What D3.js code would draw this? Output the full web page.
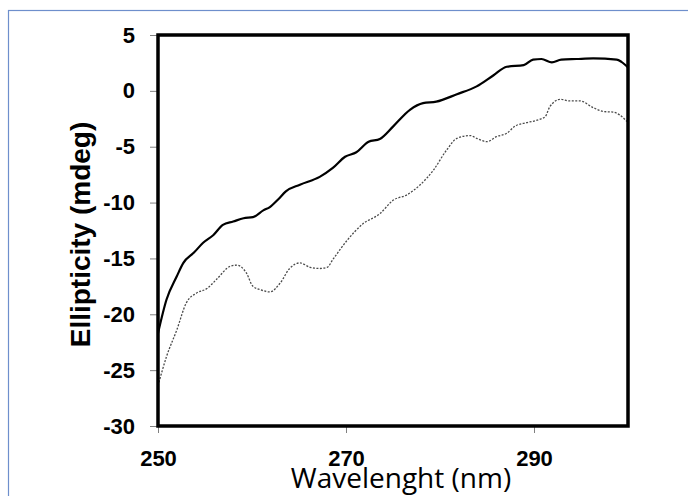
<!DOCTYPE html>
<html lang="en">
<head>
  <meta charset="UTF-8">
  <title>Ellipticity spectrum</title>
  <style>
    body { margin: 0; background: #fff; }
    .tick text { font-family: "Liberation Sans", Arial, sans-serif; font-weight: bold; font-size: 22px; fill: #000; }
    .tick line { stroke: #808080; stroke-width: 1; }
    .axis .domain { display: none; }
  </style>
</head>
<body>
  <div class="layout"></div>
  <script src="https://d3js.org/d3.v7.min.js"></script>
  <script>
    // solid trace
    const solidWl = [250.0, 250.9, 252.0, 252.7, 253.8, 254.8, 255.9, 256.9, 258.0, 259.1, 260.1, 261.2, 261.9, 262.8, 263.6,
      265.1, 267.2, 268.6, 269.9, 271.1, 272.4, 273.6, 275.0, 276.8, 278.2, 279.6, 281.8, 283.9, 285.7, 287.1,
      288.9, 289.9, 290.8, 291.9, 292.9, 294.5, 296.3, 298.8, 299.3, 300.0];
    const solidVal = [-21.7, -18.7, -16.6, -15.4, -14.5, -13.6, -12.9, -12.0, -11.7, -11.4, -11.3, -10.7, -10.4, -9.7, -9.0,
      -8.4, -7.7, -6.9, -5.9, -5.5, -4.55, -4.3, -3.2, -1.7, -1.1, -0.97, -0.3, 0.4, 1.4, 2.16,
      2.3, 2.8, 2.85, 2.55, 2.8, 2.85, 2.9, 2.8, 2.6, 2.1];

    // dotted trace
    const dottedWl = [250.0, 250.9, 252.0, 253.0, 254.1, 255.2, 256.2, 257.7, 258.4, 259.4, 260.1, 260.9, 261.9, 263.0,
      264.0, 265.1, 266.2, 267.2, 268.0, 268.6, 270.1, 271.8, 273.6, 275.0, 276.5, 277.9, 279.3, 280.7,
      281.8, 283.2, 283.9, 285.0, 286.0, 287.1, 288.0, 289.2, 290.6, 291.2, 291.7, 292.8, 293.8, 294.9,
      296.3, 297.4, 298.4, 299.1, 299.9];
    const dottedVal = [-26.4, -23.8, -21.4, -19.0, -18.1, -17.7, -16.9, -15.7, -15.6, -16.3, -17.5, -17.8, -18.0, -17.2,
      -15.9, -15.4, -15.8, -15.9, -15.8, -15.1, -13.4, -11.9, -11.0, -9.8, -9.3, -8.4, -7.1, -5.3,
      -4.25, -4.0, -4.25, -4.55, -4.1, -3.8, -3.15, -2.85, -2.55, -2.3, -1.4, -0.76, -0.9, -0.9,
      -1.5, -1.85, -1.9, -2.15, -2.75];

    const xTicks = [250, 270, 290];
    const yTicks = [5, 0, -5, -10, -15, -20, -25, -30];

    function setupSVG (width, height) {
      return d3.select('.layout')
        .append('svg')
          .attr('width', width)
          .attr('height', height)
          .style('display', 'block');
    }

    function init (svg) {
      const margin = {top: 35, right: 60, bottom: 70, left: 158};
      const innerW = SVGWIDTH - margin.left - margin.right;
      const innerH = SVGHEIGHT - margin.top - margin.bottom;

      // outer frame of the picture
      svg.append('rect')
        .attr('x', 8.5).attr('y', 10.5)
        .attr('width', 720).attr('height', 520)
        .attr('fill', 'none')
        .attr('stroke', '#6e8fcc')
        .attr('stroke-width', 1.2);

      const x = d3.scaleLinear().domain([250, 300]).range([0, innerW]);
      const y = d3.scaleLinear().domain([-30, 5]).range([innerH, 0]);

      const g = svg.append('g').attr('transform', `translate(${margin.left},${margin.top})`);

      g.append('g')
        .attr('class', 'y axis')
        .call(d3.axisLeft(y).tickValues(yTicks).tickSize(8).tickPadding(15).tickFormat(d => String(d)));

      g.append('g')
        .attr('class', 'x axis')
        .attr('transform', `translate(0,${innerH})`)
        .call(d3.axisBottom(x).tickValues(xTicks).tickSize(7).tickPadding(17).tickFormat(d => String(d)));

      const line = d3.line()
        .x(d => x(d[0]))
        .y(d => y(d[1]))
        .curve(d3.curveMonotoneX);

      g.append('path')
        .datum(dottedWl.map((w, i) => [w, dottedVal[i]]))
        .attr('d', line)
        .attr('fill', 'none')
        .attr('stroke', '#4a4a4a')
        .attr('stroke-width', 1.3)
        .attr('stroke-dasharray', '2,1.5');

      g.append('path')
        .datum(solidWl.map((w, i) => [w, solidVal[i]]))
        .attr('d', line)
        .attr('fill', 'none')
        .attr('stroke', '#000')
        .attr('stroke-width', 2.2);

      // thick plot border
      g.append('rect')
        .attr('width', innerW)
        .attr('height', innerH)
        .attr('fill', 'none')
        .attr('stroke', '#000')
        .attr('stroke-width', 3.5);

      // axis titles
      svg.append('text')
        .attr('transform', `translate(90,${margin.top + innerH / 2 + 4}) rotate(-90)`)
        .attr('text-anchor', 'middle')
        .style('font-family', '"Liberation Sans", Arial, sans-serif')
        .style('font-weight', 'bold')
        .style('font-size', '28px')
        .text('Ellipticity (mdeg)');

      svg.append('text')
        .attr('x', 401)
        .attr('y', 488)
        .attr('text-anchor', 'middle')
        .style('font-family', '"Open Sans", sans-serif')
        .style('font-size', '28px')
        .text('Wavelenght (nm)');
    }

    const SVGWIDTH = 688;
    const SVGHEIGHT = 496;
    const SVG = setupSVG(SVGWIDTH, SVGHEIGHT);
    init(SVG);
  </script>
</body>
</html>
